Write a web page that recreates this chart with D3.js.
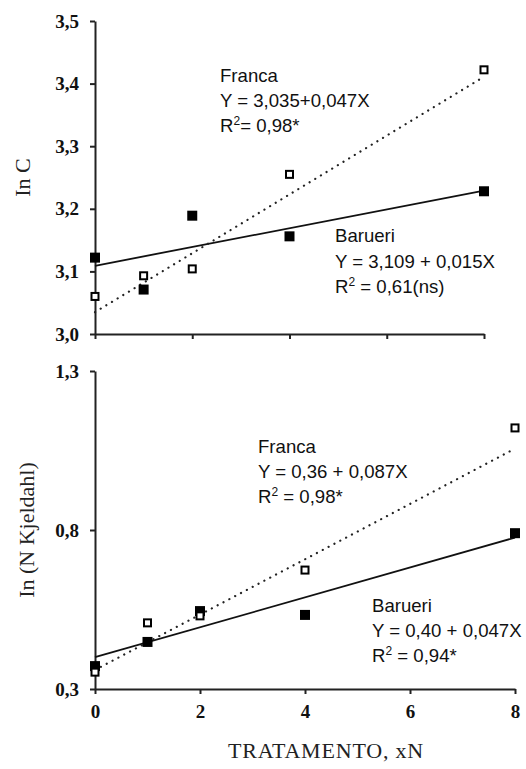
<!DOCTYPE html>
<html>
<head>
<meta charset="utf-8">
<script src="https://cdn.jsdelivr.net/npm/d3@7"></script>
<style>
  body { margin: 0; background: #fff; }
  .tick text { font-family: "Liberation Serif", "Times New Roman", serif; font-weight: bold; font-size: 19px; fill: #111; }
  .domain, .tick line { stroke: #222; stroke-width: 2; }
  .note { font-family: "Liberation Sans", Arial, sans-serif; font-size: 18.6px; fill: #111; }
  .title { font-family: "Liberation Serif", "Times New Roman", serif; font-size: 22px; fill: #222; }
</style>
</head>
<body>
<div class="chart"></div>
<script>
// treatments (xN) and measured values
var tratamento = [0, 1, 2, 4, 8];
var xTicks = [0, 2, 4, 6, 8];

var cFranca = [3.06, 3.093, 3.104, 3.255, 3.422];
var cBarueri = [3.122, 3.071, 3.189, 3.156, 3.228];
var cTicks = [3.0, 3.1, 3.2, 3.3, 3.4, 3.5];
var cFitFranca = [3.035, 0.047];
var cFitBarueri = [3.109, 0.015];

var nFranca = [0.353, 0.508, 0.53, 0.674, 1.121];
var nBarueri = [0.372, 0.448, 0.545, 0.533, 0.79];
var nTicks = [0.3, 0.8, 1.3];
var nFitFranca = [0.36, 0.087];
var nFitBarueri = [0.40, 0.047];

var svg = d3.select(".chart").append("svg")
    .attr("width", 526)
    .attr("height", 769);

var comma = function (d) { return d.toFixed(1).replace(".", ","); };

function drawPanel(opt) {
    var x = d3.scaleLinear().domain([0, 8]).range(opt.xr);
    var y = d3.scaleLinear().domain(opt.yd).range(opt.yr);
    var g = svg.append("g");

    var xAxis = d3.axisBottom(x).tickValues(xTicks).tickSize(5).tickSizeOuter(0).tickPadding(11);
    if (!opt.xLabels) xAxis.tickFormat("");
    g.append("g")
        .attr("transform", "translate(0," + opt.yr[0] + ")")
        .call(xAxis);

    g.append("g")
        .attr("transform", "translate(" + opt.xr[0] + ",0)")
        .call(d3.axisLeft(y).tickValues(opt.ticks).tickSize(5).tickSizeOuter(0).tickPadding(11).tickFormat(comma));

    // fitted lines
    var fit = function (c) {
        return [[0, c[0]], [8, c[0] + 8 * c[1]]];
    };
    var line = d3.line().x(function (d) { return x(d[0]); }).y(function (d) { return y(d[1]); });
    g.append("path").attr("d", line(fit(opt.fitB)))
        .attr("fill", "none").attr("stroke", "#111").attr("stroke-width", 1.8);
    g.append("path").attr("d", line(fit(opt.fitF)))
        .attr("fill", "none").attr("stroke", "#222").attr("stroke-width", 2.2)
        .attr("stroke-dasharray", "0.1,6.5").attr("stroke-linecap", "round");

    // Barueri filled squares
    g.selectAll("rect.bar").data(opt.barueri).enter().append("rect")
        .attr("x", function (d, i) { return x(tratamento[i]) - 5; })
        .attr("y", function (d) { return y(d) - 5; })
        .attr("width", 10).attr("height", 10)
        .attr("fill", "#000");

    // Franca open squares
    g.selectAll("rect.fra").data(opt.franca).enter().append("rect")
        .attr("x", function (d, i) { return x(tratamento[i]) - 3.5; })
        .attr("y", function (d) { return y(d) - 3.5; })
        .attr("width", 7).attr("height", 7)
        .attr("fill", "#fff").attr("stroke", "#000").attr("stroke-width", 2);

    g.append("text").attr("class", "title")
        .attr("transform", "translate(" + opt.labelX + "," + (opt.yr[0] + opt.yr[1]) / 2 + ") rotate(-90)")
        .attr("text-anchor", "middle").attr("dy", "0.35em")
        .text(opt.yLabel);

    opt.notes.forEach(function (n) {
        var t = g.append("text").attr("class", "note").attr("x", n.x).attr("y", n.y);
        if (n.sup) {
            t.append("tspan").text("R");
            t.append("tspan").attr("dy", -7).attr("font-size", 12).text("2");
            t.append("tspan").attr("dy", 7).text(n.text);
        } else {
            t.text(n.text);
        }
    });
}

drawPanel({
    xr: [95, 484], yr: [334, 21], yd: [3.0, 3.5], ticks: cTicks, xLabels: false,
    franca: cFranca, barueri: cBarueri, fitF: cFitFranca, fitB: cFitBarueri,
    yLabel: "In C", labelX: 22,
    notes: [
        {x: 220, y: 82, text: "Franca"},
        {x: 220, y: 107, text: "Y = 3,035+0,047X"},
        {x: 220, y: 132, text: "= 0,98*", sup: true},
        {x: 335, y: 242, text: "Barueri"},
        {x: 335, y: 268, text: "Y = 3,109 + 0,015X"},
        {x: 335, y: 293, text: " = 0,61(ns)", sup: true}
    ]
});

drawPanel({
    xr: [95, 515], yr: [689, 371], yd: [0.3, 1.3], ticks: nTicks, xLabels: true,
    franca: nFranca, barueri: nBarueri, fitF: nFitFranca, fitB: nFitBarueri,
    yLabel: "In (N Kjeldahl)", labelX: 26,
    notes: [
        {x: 258, y: 453, text: "Franca"},
        {x: 258, y: 478, text: "Y = 0,36 + 0,087X"},
        {x: 258, y: 503, text: " = 0,98*", sup: true},
        {x: 372, y: 612, text: "Barueri"},
        {x: 372, y: 637, text: "Y = 0,40 + 0,047X"},
        {x: 372, y: 662, text: " = 0,94*", sup: true}
    ]
});

svg.append("text").attr("class", "title")
    .attr("x", 326).attr("y", 758)
    .attr("text-anchor", "middle")
    .attr("letter-spacing", 0.8)
    .text("TRATAMENTO, xN");
</script>
</body>
</html>
